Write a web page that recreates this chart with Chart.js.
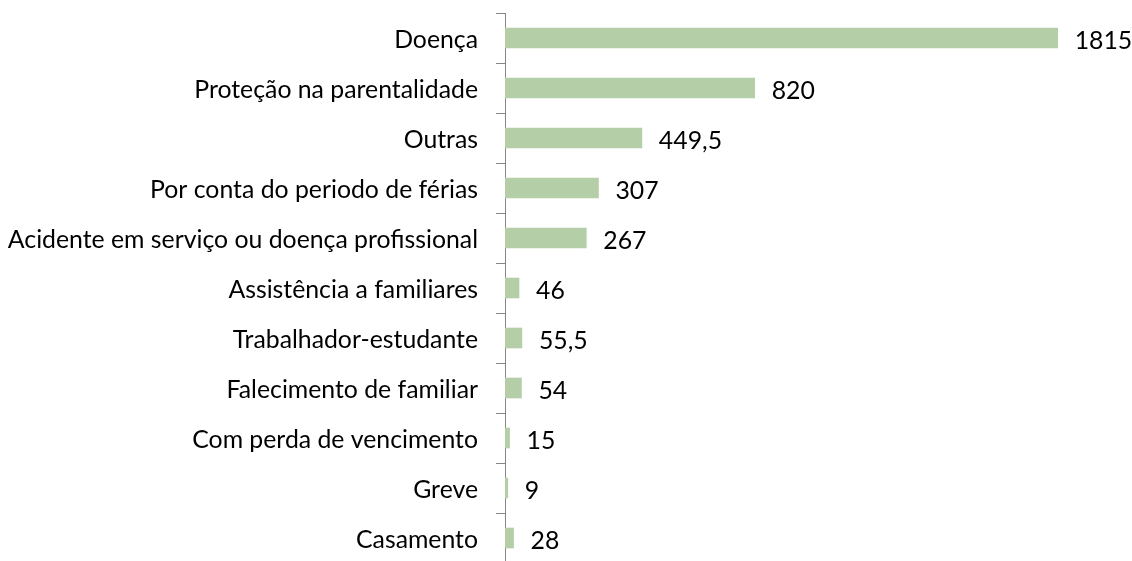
<!DOCTYPE html>
<html>
<head>
<meta charset="utf-8">
<script src="https://cdn.jsdelivr.net/npm/chart.js@4/dist/chart.umd.min.js"></script>
<style>
  html, body { margin: 0; padding: 0; background: #fff; overflow: hidden; }
  #wrap { width: 1132px; height: 566px; }
</style>
</head>
<body>
<div id="wrap"><canvas id="chart" width="1132" height="566"></canvas></div>
<script>
// dados
const categorias = [
  "Doença",
  "Proteção na parentalidade",
  "Outras",
  "Por conta do periodo de férias",
  "Acidente em serviço ou doença profissional",
  "Assistência a familiares",
  "Trabalhador-estudante",
  "Falecimento de familiar",
  "Com perda de vencimento",
  "Greve",
  "Casamento"
];
const valores = [1815, 820, 449.5, 307, 267, 46, 55.5, 54, 15, 9, 28];
const eixoMax = 2000;

const fonte = { family: "Lato", size: 24.8 };

// rótulos de valor no fim das barras
const rotulosValor = {
  id: "rotulosValor",
  afterDatasetsDraw(chart) {
    const ctx = chart.ctx;
    const meta = chart.getDatasetMeta(0);
    ctx.save();
    ctx.font = fonte.size + "px " + fonte.family;
    ctx.fillStyle = "#000";
    ctx.textAlign = "left";
    ctx.textBaseline = "middle";
    meta.data.forEach((bar, i) => {
      const txt = String(valores[i]).replace(".", ",");
      ctx.fillText(txt, bar.x + 17, bar.y + 3);
    });
    ctx.restore();
  }
};

Chart.defaults.font.family = fonte.family;
Chart.defaults.font.size = fonte.size;
Chart.defaults.color = "#000";

const ctx = document.getElementById("chart").getContext("2d");
const chart = new Chart(ctx, {
  type: "bar",
  data: {
    labels: categorias,
    datasets: [{
      data: valores,
      backgroundColor: "#b4cfa7",
      barThickness: 20
    }]
  },
  options: {
    indexAxis: "y",
    responsive: false,
    animation: false,
    layout: { padding: { top: 13, bottom: 3, right: 18, left: 0 } },
    plugins: {
      legend: { display: false },
      tooltip: { enabled: false }
    },
    scales: {
      x: { display: false, min: 0, max: eixoMax },
      y: {
        afterFit(scale) {
          scale.width = 505;
          scale.paddingTop = 0;
          scale.paddingBottom = 0;
        },
        grid: {
          offset: true,
          drawOnChartArea: false,
          drawTicks: true,
          tickLength: 9,
          color: "#868686"
        },
        border: { color: "#868686", width: 1 },
        ticks: { padding: 18, color: "#000", labelOffset: 2 }
      }
    }
  },
  plugins: [rotulosValor]
});
</script>
</body>
</html>
